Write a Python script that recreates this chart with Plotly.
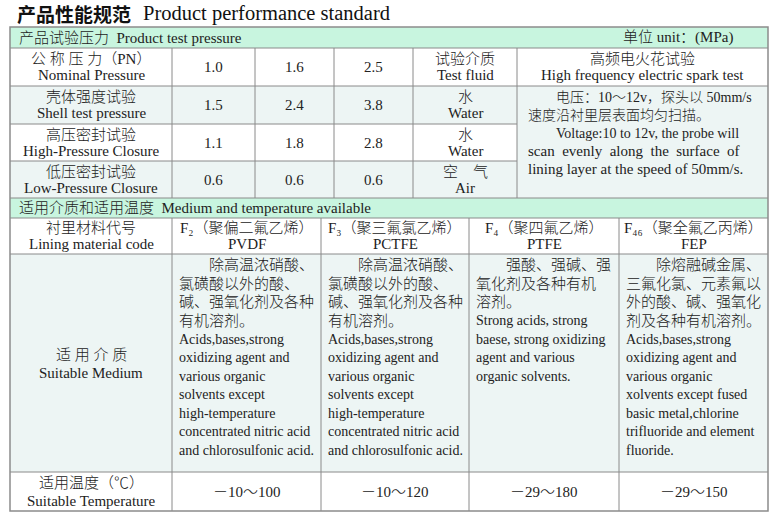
import plotly.graph_objects as go

# ---- table content ----
title_cn = "产品性能规范"
title_en = "Product performance standard"

pressure_header = "产品试验压力  Product test pressure"
pressure_unit = "单位 unit：(MPa)"

pressure_labels_cn = ["公 称 压 力（PN）", "壳体强度试验", "高压密封试验", "低压密封试验"]
pressure_labels_en = ["Nominal Pressure", "Shell test pressure", "High-Pressure Closure", "Low-Pressure Closure"]
pressure_values = [
    ["1.0", "1.6", "2.5"],
    ["1.5", "2.4", "3.8"],
    ["1.1", "1.8", "2.8"],
    ["0.6", "0.6", "0.6"],
]
fluid_cn = ["试验介质", "水", "水", "空　气"]
fluid_en = ["Test fluid", "Water", "Water", "Air"]

spark_head_cn = "高频电火花试验"
spark_head_en = "High frequency electric spark test"
spark_lines = [
    "　　电压：10～12v，探头以 50mm/s",
    "速度沿衬里层表面均匀扫描。",
    "　　Voltage:10 to 12v, the probe will",
    "scan\u00a0 evenly\u00a0 along\u00a0 the\u00a0 surface\u00a0 of",
    "lining layer at the speed of 50mm/s.",
]

medium_header = "适用介质和适用温度  Medium and temperature available"
material_label = ["衬里材料代号", "Lining material code"]
materials_cn = ["F₂（聚偏二氟乙烯）", "F₃（聚三氟氯乙烯）", "F₄（聚四氟乙烯）", "F₄₆（聚全氟乙丙烯）"]
materials_en = ["PVDF", "PCTFE", "PTFE", "FEP"]

medium_label = ["适 用 介 质", "Suitable Medium"]
medium_text = [
    ["　　除高温浓硝酸、", "氯磺酸以外的酸、", "碱、强氧化剂及各种", "有机溶剂。",
     "Acids,bases,strong", "oxidizing agent and", "various organic", "solvents except",
     "high-temperature", "concentrated nitric acid", "and chlorosulfonic acid."],
    ["　　除高温浓硝酸、", "氯磺酸以外的酸、", "碱、强氧化剂及各种", "有机溶剂。",
     "Acids,bases,strong", "oxidizing agent and", "various organic", "solvents except",
     "high-temperature", "concentrated nitric acid", "and chlorosulfonic acid."],
    ["　　强酸、强碱、强", "氧化剂及各种有机", "溶剂。",
     "Strong acids, strong", "baese, strong oxidizing", "agent and various", "organic solvents."],
    ["　　除熔融碱金属、", "三氟化氯、元素氟以", "外的酸、碱、强氧化", "剂及各种有机溶剂。",
     "Acids,bases,strong", "oxidizing agent and", "various organic", "xolvents except fused",
     "basic metal,chlorine", "trifluoride and element", "fluoride."],
]

temp_label = ["适用温度（℃）", "Suitable Temperature"]
temp_ranges = ["－10～100", "－10～120", "－29～180", "－29～150"]

# ---- layout grid (pixels) ----
W, H = 778, 518
top_cols = [10, 172, 255, 334, 413, 517, 768]
top_rows = [27, 48, 86, 124, 161, 198]
bot_cols = [10, 172, 321, 469, 619, 768]
bot_rows = [198, 218, 254, 472, 511]

FONT = "Liberation Serif, Noto Sans CJK SC"
TXT = "#222222"
GREEN = "#c8f5df"
LIGHT = "#edf5f4"
GRID = "#8a8a8a"

shapes = []
annotations = []


def is_cjk(s):
    return any(ord(c) > 0x2E80 for c in s)


def rect(x0, y0, x1, y1, fill):
    shapes.append(dict(type="rect", x0=x0, x1=x1, y0=y0, y1=y1, xref="x", yref="y",
                       fillcolor=fill, line=dict(width=0), layer="below"))


def line(x0, y0, x1, y1, color=GRID, width=1):
    shapes.append(dict(type="line", x0=x0, x1=x1, y0=y0, y1=y1, xref="x", yref="y",
                       line=dict(color=color, width=width)))


def text(x, y, s, size=15, anchor="center", family=FONT, color=TXT, weight=300):
    annotations.append(dict(x=x, y=y, xref="x", yref="y", text=s, showarrow=False,
                            xanchor=anchor, yanchor="middle",
                            font=dict(family=family, size=size, color=color, weight=weight)))


# title
text(15, 13, title_cn, size=19, anchor="left", family="Noto Sans CJK SC", color="#111", weight=700)
text(141, 13, title_en, size=20.5, anchor="left", color="#111", weight=400)

# ---- pressure section ----
rect(top_cols[0], top_rows[0], top_cols[-1], top_rows[1], GREEN)
text(17, (top_rows[0] + top_rows[1]) / 2, pressure_header, anchor="left")
text(735, (top_rows[0] + top_rows[1]) / 2, pressure_unit, anchor="right")

for i in range(4):
    y0, y1 = top_rows[i + 1], top_rows[i + 2]
    yc = (y0 + y1) / 2
    if i in (1, 3):
        rect(top_cols[0], y0, top_cols[5], y1, LIGHT)
    cx = (top_cols[0] + top_cols[1]) / 2
    text(cx, yc - 8, pressure_labels_cn[i])
    text(cx, yc + 8, pressure_labels_en[i])
    for j, v in enumerate(pressure_values[i]):
        text((top_cols[j + 1] + top_cols[j + 2]) / 2, yc, v)
    fx = (top_cols[4] + top_cols[5]) / 2
    text(fx, yc - 8, fluid_cn[i])
    text(fx, yc + 8, fluid_en[i])

# spark test column
sx = (top_cols[5] + top_cols[6]) / 2
yc = (top_rows[1] + top_rows[2]) / 2
text(sx, yc - 8, spark_head_cn)
text(sx, yc + 8, spark_head_en)
rect(top_cols[5], top_rows[2], top_cols[6], top_rows[5], LIGHT)
for k, s in enumerate(spark_lines):
    text(top_cols[5] + 9, 97 + 18 * k, s, size=14 if is_cjk(s) else 15, anchor="left")

for y in top_rows[1:-1]:
    x_end = top_cols[-1] if y <= top_rows[2] else top_cols[5]
    line(top_cols[0], y, x_end, y)
for x in top_cols[1:-1]:
    line(x, top_rows[1], x, top_rows[-1])

# ---- medium section ----
rect(bot_cols[0], bot_rows[0], bot_cols[-1], bot_rows[1], GREEN)
text(17, (bot_rows[0] + bot_rows[1]) / 2, medium_header, anchor="left")

yc = (bot_rows[1] + bot_rows[2]) / 2
cx = (bot_cols[0] + bot_cols[1]) / 2
text(cx, yc - 8, material_label[0])
text(cx, yc + 8, material_label[1])
for j in range(4):
    mx = (bot_cols[j + 1] + bot_cols[j + 2]) / 2
    text(mx, yc - 8, materials_cn[j])
    text(mx, yc + 8, materials_en[j])

rect(bot_cols[0], bot_rows[2], bot_cols[-1], bot_rows[3], LIGHT)
text(cx, 355, medium_label[0])
text(cx, 373, medium_label[1])
for j, lines in enumerate(medium_text):
    for k, s in enumerate(lines):
        text(bot_cols[j + 1] + 5, 265 + 18.5 * k, s, size=15 if is_cjk(s) else 14, anchor="left")

yc = (bot_rows[3] + bot_rows[4]) / 2
text(cx, yc - 9, temp_label[0])
text(cx, yc + 9, temp_label[1])
for j, t in enumerate(temp_ranges):
    text((bot_cols[j + 1] + bot_cols[j + 2]) / 2, yc, t)

for y in bot_rows[:-1]:
    line(bot_cols[0], y, bot_cols[-1], y)
for x in bot_cols[1:-1]:
    line(x, bot_rows[1], x, bot_rows[-1])

# outer frame
shapes.append(dict(type="rect", x0=top_cols[0], x1=top_cols[-1], y0=top_rows[0], y1=bot_rows[-1],
                   xref="x", yref="y", line=dict(color="#8c8c8c", width=1.5)))

fig = go.Figure()
fig.update_layout(
    width=W, height=H,
    margin=dict(l=0, r=0, t=0, b=0),
    paper_bgcolor="white", plot_bgcolor="white",
    xaxis=dict(range=[0, W], visible=False, fixedrange=True),
    yaxis=dict(range=[H, 0], visible=False, fixedrange=True),
    shapes=shapes, annotations=annotations,
    showlegend=False,
)
# the browser's default body margin would push the page 8px off
fig.write_html("out.html", config={"displayModeBar": False},
               post_script="document.body.style.margin='0';document.body.style.overflow='hidden';")
